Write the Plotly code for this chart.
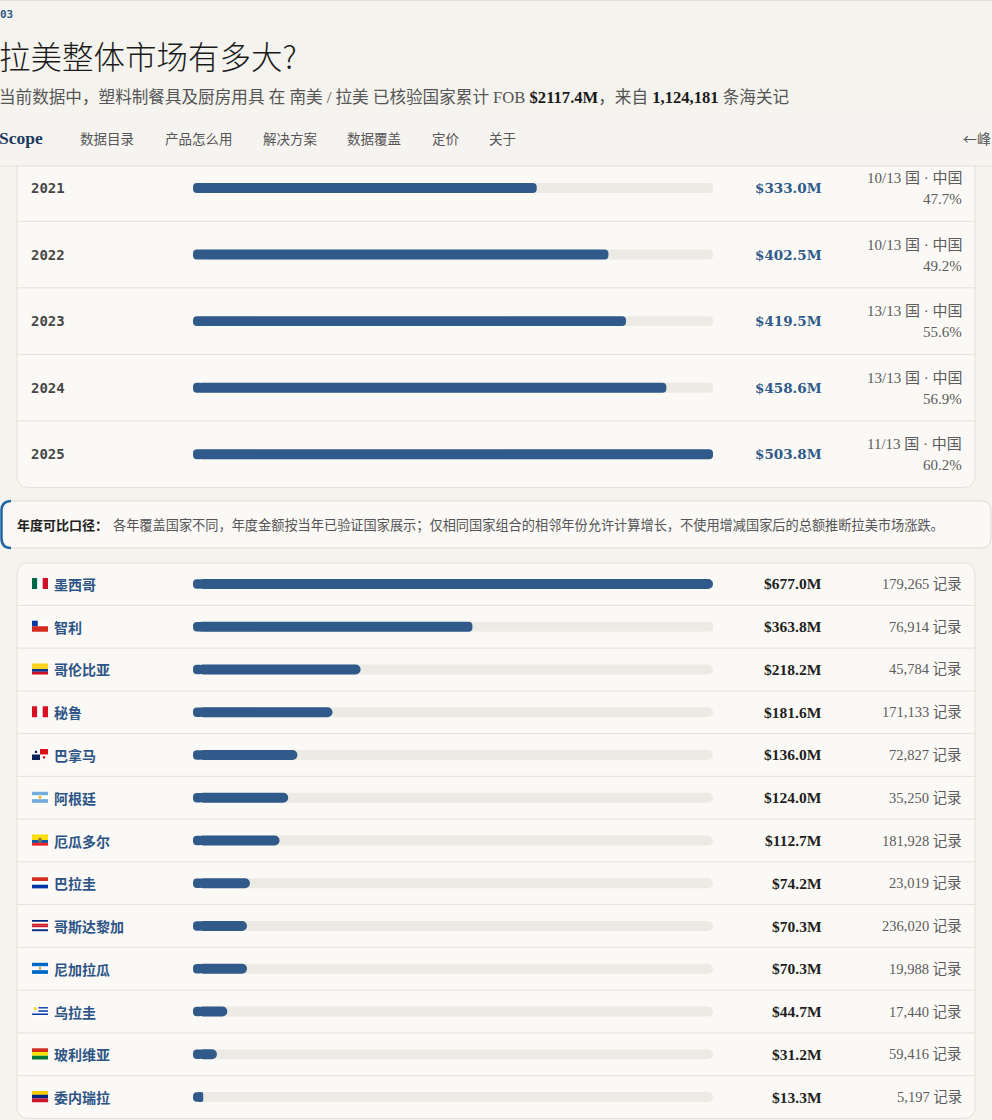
import plotly.graph_objects as go

W, H = 992, 1120

# ---- data ----
years = ["2021", "2022", "2023", "2024", "2025"]
year_fob = [333.0, 402.5, 419.5, 458.6, 503.8]
year_coverage = ["10/13", "10/13", "13/13", "13/13", "11/13"]
year_china_share = [47.7, 49.2, 55.6, 56.9, 60.2]

countries = ["墨西哥", "智利", "哥伦比亚", "秘鲁", "巴拿马", "阿根廷", "厄瓜多尔",
             "巴拉圭", "哥斯达黎加", "尼加拉瓜", "乌拉圭", "玻利维亚", "委内瑞拉"]
country_fob = [677.0, 363.8, 218.2, 181.6, 136.0, 124.0, 112.7, 74.2, 70.3, 70.3, 44.7, 31.2, 13.3]
country_records = [179265, 76914, 45784, 171133, 72827, 35250, 181928, 23019, 236020,
                   19988, 17440, 59416, 5197]
flag_codes = ["MX", "CL", "CO", "PE", "PA", "AR", "EC", "PY", "CR", "NI", "UY", "BO", "VE"]

total_fob = 2117.4
total_records = 1124181
nav_items = ["数据目录", "产品怎么用", "解决方案", "数据覆盖", "定价", "关于"]

# ---- style ----
PAGE = "#f4f3ed"
CARD = "#faf9f5"
BORDER = "#e3e1d8"
BLUE = "#2f5a89"
TRACK = "#eceae4"
GRAY = "#5c5c5c"
SERIF = "Liberation Serif, Noto Sans CJK SC"
CJK = "Noto Sans CJK SC"
TRACK_PX = 520
CAP_PX = 5


def X(p):
    return p / W


def Y(p):
    return 1 - p / H


def rrect_path(x0, y0, x1, y1, r):
    return (f"M {X(x0 + r)},{Y(y0)} L {X(x1 - r)},{Y(y0)} Q {X(x1)},{Y(y0)} {X(x1)},{Y(y0 + r)} "
            f"L {X(x1)},{Y(y1 - r)} Q {X(x1)},{Y(y1)} {X(x1 - r)},{Y(y1)} "
            f"L {X(x0 + r)},{Y(y1)} Q {X(x0)},{Y(y1)} {X(x0)},{Y(y1 - r)} "
            f"L {X(x0)},{Y(y0 + r)} Q {X(x0)},{Y(y0)} {X(x0 + r)},{Y(y0)} Z")


FLAGS = {
    "MX": ("v", ["#006847", "#ffffff", "#ce1126"], []),
    "CL": ("h", ["#ffffff", "#d52b1e"], [(0, 0, 0.36, 0.5, "#0039a6")]),
    "CO": ("h", ["#fcd116", "#fcd116", "#003893", "#ce1126"], []),
    "PE": ("v", ["#d91023", "#ffffff", "#d91023"], []),
    "PA": ("h", ["#ffffff", "#ffffff"], [(0.5, 0, 1, 0.5, "#da121a"), (0, 0.5, 0.5, 1, "#072357"),
                                         (0.18, 0.15, 0.32, 0.35, "#072357"), (0.68, 0.65, 0.82, 0.85, "#da121a")]),
    "AR": ("h", ["#74acdf", "#ffffff", "#74acdf"], [(0.42, 0.38, 0.58, 0.62, "#f6b40e")]),
    "EC": ("h", ["#ffdd00", "#ffdd00", "#034ea2", "#ed1c24"], [(0.4, 0.3, 0.6, 0.7, "#8a7a3a")]),
    "PY": ("h", ["#d52b1e", "#ffffff", "#0038a8"], []),
    "CR": ("h", ["#002b7f", "#ffffff", "#ce1126", "#ce1126", "#ffffff", "#002b7f"], []),
    "NI": ("h", ["#0067c6", "#ffffff", "#0067c6"], [(0.44, 0.38, 0.56, 0.62, "#c8a03a")]),
    "UY": ("h", ["#ffffff", "#0038a8", "#ffffff", "#0038a8", "#ffffff", "#0038a8", "#ffffff"],
           [(0, 0, 0.4, 0.57, "#ffffff"), (0.12, 0.15, 0.28, 0.42, "#fcd116")]),
    "BO": ("h", ["#d52b1e", "#f9e300", "#007934"], []),
    "VE": ("h", ["#ffcc00", "#00247d", "#cf142b"], []),
}

fig = go.Figure()


def pill_bars(cats, vals, vmax, width, cap_width, xa, ya, color, hover):
    # short piece growing left gives the rounded start; main piece on top gives the rounded end
    cap = CAP_PX * vmax / TRACK_PX
    left = [min(2 * cap, v) for v in vals]
    fig.add_trace(go.Bar(y=cats, x=[-l for l in left], base=left, orientation="h", width=cap_width,
                         marker=dict(color=color, cornerradius=CAP_PX, line=dict(width=0)),
                         xaxis=xa, yaxis=ya, hoverinfo="skip"))
    fig.add_trace(go.Bar(y=cats, x=[v - cap for v in vals], base=cap, orientation="h", width=width,
                         customdata=vals, marker=dict(color=color, cornerradius=CAP_PX, line=dict(width=0)),
                         xaxis=xa, yaxis=ya,
                         hovertemplate="%{y}: $%{customdata:.1f}M<extra></extra>" if hover else None,
                         hoverinfo=None if hover else "skip"))


year_max = max(year_fob)
country_max = max(country_fob)
pill_bars(years, [year_max] * len(years), year_max, 0.15, 0.15, "x", "y", TRACK, False)
pill_bars(years, year_fob, year_max, 0.15, 0.15, "x", "y", BLUE, True)
pill_bars(countries, [country_max] * len(countries), country_max, 0.234, 0.224, "x2", "y2", TRACK, False)
pill_bars(countries, country_fob, country_max, 0.234, 0.224, "x2", "y2", BLUE, True)

shapes = []
ann = []

# cards
shapes.append(dict(type="path", path=rrect_path(17, 140, 975, 487.5, 12), xref="paper", yref="paper",
                   fillcolor=CARD, line=dict(color=BORDER, width=1), layer="below"))
shapes.append(dict(type="path", path=rrect_path(17, 563, 975, 1118.5, 12), xref="paper", yref="paper",
                   fillcolor=CARD, line=dict(color=BORDER, width=1), layer="below"))
# notice box
shapes.append(dict(type="path", path=rrect_path(1, 501, 991, 548, 10), xref="paper", yref="paper",
                   fillcolor=CARD, line=dict(color="#dcdbd4", width=1), layer="below"))
shapes.append(dict(type="path", xref="paper", yref="paper", layer="below",
                   path=f"M {X(11)},{Y(501)} Q {X(1.5)},{Y(501)} {X(1.5)},{Y(511)} L {X(1.5)},{Y(538)} "
                        f"Q {X(1.5)},{Y(548)} {X(11)},{Y(548)}",
                   line=dict(color="#1f64a3", width=2.5)))

# row separators
for i in range(len(years) - 1):
    shapes.append(dict(type="line", xref="paper", yref="y", x0=X(17), x1=X(975), y0=i + 0.5, y1=i + 0.5,
                       line=dict(color=BORDER, width=1), layer="below"))
for i in range(len(countries) - 1):
    shapes.append(dict(type="line", xref="paper", yref="y2", x0=X(17), x1=X(975), y0=i + 0.5, y1=i + 0.5,
                       line=dict(color=BORDER, width=1), layer="below"))

# year rows text (positions by category index)
for i, yr in enumerate(years):
    ann.append(dict(x=X(29), y=i, xref="paper", yref="y", xanchor="left", text=f"<b>{yr}</b>",
                    font=dict(family="DejaVu Sans Mono", size=14, color="#474747")))
    ann.append(dict(x=X(824), y=i, xref="paper", yref="y", xanchor="right",
                    text=f"<b>${year_fob[i]:.1f}M</b>",
                    font=dict(family="DejaVu Serif", size=13.5, color=BLUE)))
    ann.append(dict(x=X(964), y=i, xref="paper", yref="y", xanchor="right", yshift=10,
                    text=f"{year_coverage[i]} 国 · 中国", font=dict(family=SERIF, size=15, color=GRAY)))
    ann.append(dict(x=X(964), y=i, xref="paper", yref="y", xanchor="right", yshift=-11,
                    text=f"{year_china_share[i]:.1f}%", font=dict(family=SERIF, size=15, color=GRAY)))

# country rows text and flags
for i, c in enumerate(countries):
    orient, stripes, extras = FLAGS[flag_codes[i]]
    fx0, fx1 = 32, 48
    fy0, fy1 = i - 0.14, i + 0.12
    n = len(stripes)
    for k, col in enumerate(stripes):
        if orient == "v":
            shapes.append(dict(type="rect", xref="paper", yref="y2",
                               x0=X(fx0 + (fx1 - fx0) * k / n), x1=X(fx0 + (fx1 - fx0) * (k + 1) / n),
                               y0=fy0, y1=fy1, fillcolor=col, line=dict(width=0)))
        else:
            shapes.append(dict(type="rect", xref="paper", yref="y2", x0=X(fx0), x1=X(fx1),
                               y0=fy0 + (fy1 - fy0) * k / n, y1=fy0 + (fy1 - fy0) * (k + 1) / n,
                               fillcolor=col, line=dict(width=0)))
    for (a0, b0, a1, b1, col) in extras:
        shapes.append(dict(type="rect", xref="paper", yref="y2",
                           x0=X(fx0 + (fx1 - fx0) * a0), x1=X(fx0 + (fx1 - fx0) * a1),
                           y0=fy0 + (fy1 - fy0) * b0, y1=fy0 + (fy1 - fy0) * b1,
                           fillcolor=col, line=dict(width=0)))
    ann.append(dict(x=X(52), y=i, xref="paper", yref="y2", xanchor="left", text=f"<b>{c}</b>",
                    font=dict(family=CJK, size=14, color="#2d5486")))
    ann.append(dict(x=X(824), y=i, xref="paper", yref="y2", xanchor="right",
                    text=f"<b>${country_fob[i]:.1f}M</b>",
                    font=dict(family="Liberation Serif", size=15.5, color="#1e1e1e")))
    ann.append(dict(x=X(964), y=i, xref="paper", yref="y2", xanchor="right",
                    text=f"{country_records[i]:,} 记录", font=dict(family=SERIF, size=14.5, color=GRAY)))

# notice text
ann.append(dict(x=X(15), y=Y(524), xref="paper", yref="paper", xanchor="left", text="<b>年度可比口径：</b>",
                font=dict(family=CJK, size=13, color="#222222")))
ann.append(dict(x=X(111), y=Y(524), xref="paper", yref="paper", xanchor="left",
                text="各年覆盖国家不同，年度金额按当年已验证国家展示；仅相同国家组合的相邻年份允许计算增长，不使用增减国家后的总额推断拉美市场涨跌。",
                font=dict(family=CJK, size=13.2, color="#555555")))

# nav overlay (sticky header over the year card)
shapes.append(dict(type="rect", xref="paper", yref="paper", x0=0, x1=1, y0=Y(166), y1=Y(110),
                   fillcolor="rgba(245,244,239,0.97)", line=dict(width=0), layer="above"))
shapes.append(dict(type="line", xref="paper", yref="paper", x0=0, x1=1, y0=Y(166), y1=Y(166),
                   line=dict(color="#e2e0d7", width=1), layer="above"))
shapes.append(dict(type="line", xref="paper", yref="paper", x0=0, x1=1, y0=Y(0.5), y1=Y(0.5),
                   line=dict(color="#e2e0d7", width=1), layer="above"))

ann.append(dict(x=X(-3), y=Y(138), xref="paper", yref="paper", xanchor="left", text="<b>Scope</b>",
                font=dict(family="Liberation Serif", size=17.5, color="#1d3a5f")))
nav_x = [80, 165, 263, 347, 432, 489]
for nx, item in zip(nav_x, nav_items):
    ann.append(dict(x=X(nx - 2), y=Y(138), xref="paper", yref="paper", xanchor="left", text=item,
                    font=dict(family=CJK, size=13.5, color="#555555")))
ann.append(dict(x=X(993), y=Y(138), xref="paper", yref="paper", xanchor="right", text="←峰",
                font=dict(family=CJK, size=14, color="#555555")))

# header
ann.append(dict(x=X(-2), y=Y(15), xref="paper", yref="paper", xanchor="left", text="<b>03</b>",
                font=dict(family="DejaVu Sans Mono", size=11, color=BLUE)))
ann.append(dict(x=X(-3), y=Y(55), xref="paper", yref="paper", xanchor="left", text="拉美整体市场有多大?",
                font=dict(family=CJK, size=31.5, color="#1a1a1a", weight=300)))
ann.append(dict(x=X(-3), y=Y(97), xref="paper", yref="paper", xanchor="left",
                text=("当前数据中，塑料制餐具及厨房用具 在 南美 / 拉美 已核验国家累计 FOB "
                      f"<b><span style='color:#1a1a1a'>${total_fob:.1f}M</span></b>，来自 "
                      f"<b><span style='color:#1a1a1a'>{total_records:,}</span></b> 条海关记"),
                font=dict(family=SERIF, size=16.6, color="#555555")))

for a in ann:
    a["showarrow"] = False
    a["yanchor"] = "middle"

axis_off = dict(showgrid=False, zeroline=False, showticklabels=False, showline=False, fixedrange=True)
fig.update_layout(
    width=W, height=H,
    margin=dict(l=0, r=0, t=0, b=0),
    paper_bgcolor=PAGE, plot_bgcolor="rgba(0,0,0,0)",
    barmode="overlay", showlegend=False,
    xaxis=dict(domain=[X(193), X(713)], range=[0, year_max], anchor="y", **axis_off),
    yaxis=dict(domain=[Y(487.5), Y(154.75)], type="category", categoryorder="array", categoryarray=years,
               range=[len(years) - 0.5, -0.5], anchor="x", **axis_off),
    xaxis2=dict(domain=[X(193), X(713)], range=[0, country_max], anchor="y2", **axis_off),
    yaxis2=dict(domain=[Y(1118.4), Y(562.6)], type="category", categoryorder="array", categoryarray=countries,
                range=[len(countries) - 0.5, -0.5], anchor="x2", **axis_off),
    shapes=shapes, annotations=ann,
)

fig.write_html("out.html", config={"displayModeBar": False},
               post_script="document.body.style.margin='0';document.body.style.background='#f4f3ed';")
